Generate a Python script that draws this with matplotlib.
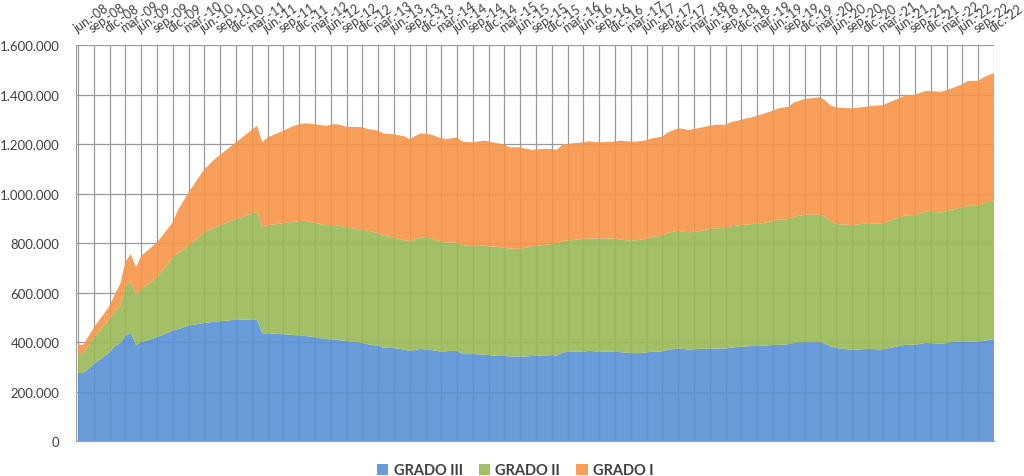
import matplotlib
matplotlib.use("Agg")
import matplotlib.pyplot as plt
from matplotlib.patches import Patch
from matplotlib.ticker import FuncFormatter

# month index: 0 = jun-2008 ... 174 = dic-2022
months = [0, 1, 3, 6, 7, 8, 9, 10, 11, 12, 15, 18, 19, 21, 24, 26, 30, 34, 35, 36,
          39, 41, 43, 45, 47, 49, 51, 54, 55, 57, 58, 60, 62, 63, 65, 67, 69, 70, 72, 73,
          75, 77, 78, 79, 81, 82, 84, 86, 88, 90, 91, 92, 94, 96, 97, 99, 102, 103, 105, 106,
          108, 109, 111, 112, 114, 115, 116, 118, 120, 121, 123, 124, 126, 127, 128, 130, 132, 133, 135, 136,
          138, 141, 142, 143, 144, 147, 150, 153, 154, 156, 157, 159, 161, 164, 166, 168, 169, 171, 172, 174]

grado_iii = [276, 276, 312, 359, 385, 395, 426, 437, 389, 400, 420, 447, 453, 467, 478, 483, 491, 491, 436, 436,
             432, 429, 426, 420, 413, 410, 405, 397, 392, 386, 378, 376, 370, 365, 373, 369, 362, 364, 365, 352,
             352, 350, 348, 346, 344, 343, 342, 344, 346, 348, 346, 359, 362, 362, 365, 362, 362, 360, 356, 356,
             358, 362, 363, 369, 375, 373, 370, 373, 374, 375, 374, 378, 382, 383, 385, 386, 389, 389, 392, 397,
             400, 400, 393, 382, 377, 369, 373, 371, 376, 384, 389, 390, 397, 394, 400, 404, 403, 402, 406, 412]

grado_ii = [80, 80, 108, 135, 140, 150, 196, 207, 202, 215, 242, 296, 307, 323, 366, 381, 406, 436, 428, 437,
            448, 458, 465, 461, 460, 463, 459, 457, 458, 455, 452, 446, 442, 442, 451, 451, 442, 439, 437, 440,
            435, 440, 439, 440, 438, 435, 435, 442, 446, 449, 452, 449, 451, 455, 454, 457, 457, 454, 455, 456,
            459, 464, 467, 472, 475, 473, 474, 476, 483, 485, 487, 490, 491, 492, 492, 495, 500, 506, 505, 510,
            515, 515, 512, 508, 500, 504, 507, 509, 514, 520, 522, 524, 530, 530, 535, 541, 548, 549, 555, 561]

grado_i = [34, 34, 40, 53, 70, 90, 103, 112, 111, 134, 141, 142, 175, 215, 255, 276, 310, 347, 343, 354,
           374, 387, 393, 399, 401, 408, 406, 414, 411, 413, 413, 417, 419, 413, 419, 419, 419, 417, 425, 418,
           420, 424, 424, 420, 416, 409, 410, 391, 388, 383, 379, 390, 390, 390, 392, 388, 391, 400, 399, 398,
           399, 397, 400, 406, 414, 415, 413, 416, 417, 418, 417, 420, 425, 429, 431, 440, 446, 449, 454, 461,
           467, 474, 470, 465, 471, 471, 472, 478, 478, 481, 484, 485, 488, 487, 490, 497, 504, 505, 508, 514]

series_names = ["GRADO III", "GRADO II", "GRADO I"]
colors = ["#5a90d6", "#9ab956", "#f79448"]

tick_pos = list(range(0, 175, 3))
tick_labels = []
for p in tick_pos:
    m_abs = 5 + p  # 0-based month from jan-2008
    yr = 2008 + m_abs // 12
    mo = m_abs % 12
    name = {5: "jun.", 8: "sep.", 11: "dic.", 2: "mar."}[mo]
    tick_labels.append(f"{name}-{yr % 100:02d}")

plt.rcParams['font.family'] = ['Lato', 'DejaVu Sans']

fig = plt.figure(figsize=(10.24, 4.77), dpi=100)
ax = fig.add_axes([76/1024, 1 - 442.3/477, (994 - 76)/1024, (442.3 - 46)/477])

vals = [[v * 1000 for v in s] for s in (grado_iii, grado_ii, grado_i)]
ax.stackplot(months, *vals, colors=colors, alpha=0.9, labels=series_names,
             linewidth=0, zorder=2)

ax.set_xlim(-0.4, 174)
ax.set_ylim(0, 1600000)
ax.set_yticks(range(0, 1600001, 200000))
ax.yaxis.set_major_formatter(FuncFormatter(lambda v, p: f"{int(v):,}".replace(",", ".")))

ax.xaxis.tick_top()
ax.set_xticks(tick_pos)
ax.set_xticklabels(tick_labels, rotation=35, ha='left', va='bottom',
                   rotation_mode='anchor', fontsize=9, color='#404040')
ax.tick_params(axis='x', length=0, pad=8)
ax.tick_params(axis='y', length=0, pad=12, labelsize=9.5, labelcolor='#404040')

ax.set_axisbelow(True)
ax.grid(True, color='#9a9a9a', linewidth=0.9)
for s in ['top', 'right']:
    ax.spines[s].set_visible(False)
ax.spines['left'].set_color('#a0a0a0')
ax.spines['bottom'].set_color('#a0a0a0')

handles = [Patch(facecolor=c, alpha=0.9) for c in colors]
leg = fig.legend(handles, series_names, loc='center', bbox_to_anchor=(0.503, 0.012),
                 ncol=3, frameon=False, handlelength=0.8, handleheight=0.8,
                 handletextpad=0.35, columnspacing=1.1,
                 prop={'weight': 'bold', 'size': 10.5})
for t in leg.get_texts():
    t.set_color('#404040')

fig.savefig("out.png", dpi=100)
